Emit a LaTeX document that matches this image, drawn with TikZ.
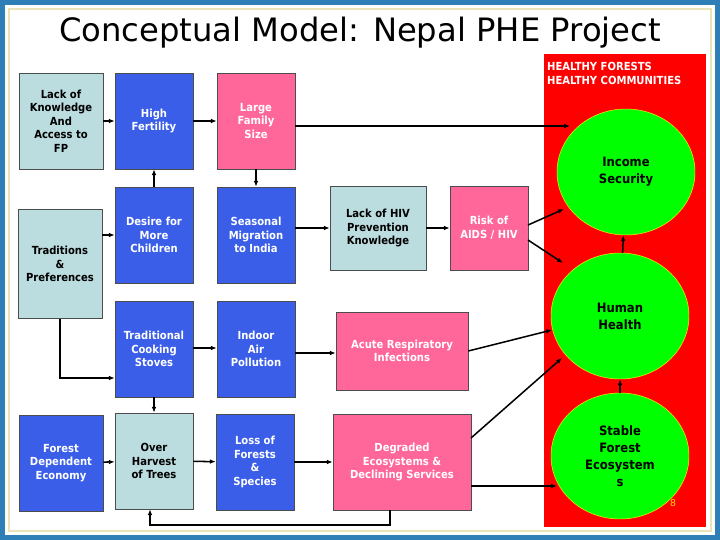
\documentclass[tikz,border=0pt]{standalone}
\usepackage{fontspec}
\setmainfont{DejaVu Sans}
\newfontfamily\cond{DejaVu Sans Condensed}
\usetikzlibrary{arrows.meta,shapes.geometric}
\definecolor{lb}{HTML}{BCDDE0}
\definecolor{bb}{HTML}{3A5EE8}
\definecolor{pk}{HTML}{FF6699}
\definecolor{gr}{HTML}{00FF00}
\definecolor{frame}{HTML}{2E7FB8}
\definecolor{cream}{HTML}{E8E4B8}
\begin{document}
\begin{tikzpicture}[x=0.03cm,y=-0.03cm,
  bx/.style={draw=black!70,line width=0.5pt,align=center,font=\cond\bfseries\fontsize{9.5}{11.5}\selectfont,inner sep=1pt,minimum width=2.34cm,minimum height=2.88cm},
  lbox/.style={bx,fill=lb,text=black},
  bbox/.style={bx,fill=bb,text=white},
  pbox/.style={bx,fill=pk,text=white},
  ell/.style={ellipse,draw=yellow,fill=gr,align=center,font=\cond\bfseries\fontsize{11}{14.5}\selectfont,minimum width=4.14cm,minimum height=3.78cm,inner sep=0},
  ar/.style={-{Latex[length=5pt,width=4pt]},line width=1.3pt}]
\fill[frame] (0,0) rectangle (720,540);
\fill[white] (5,5) rectangle (715,535);
\draw[cream,line width=1.5pt] (9,9) rectangle (711,531);
\node (title) at (360,33) {\fontsize{27.5}{30}\selectfont Conceptual Model: Nepal PHE Project};
\fill[red] (544,54) rectangle (706,527);
\node[anchor=north west,text=white,align=left,font=\cond\bfseries\fontsize{9.5}{12}\selectfont,inner sep=0] (hf) at (547,62) {HEALTHY FORESTS\\HEALTHY COMMUNITIES};
% boxes
\node[lbox,minimum width=2.52cm] (fp) at (61,121) {Lack of\\Knowledge\\And\\Access to\\FP};
\node[bbox] (hfe) at (154,121) {High\\Fertility};
\node[pbox] (lfs) at (256,121) {Large\\Family\\Size};
\node[lbox,minimum width=2.52cm,minimum height=3.27cm] (tr) at (60,264) {Traditions\\\&\\Preferences};
\node[bbox] (des) at (154,235) {Desire for\\More\\Children};
\node[bbox] (sea) at (256,235) {Seasonal\\Migration\\to India};
\node[lbox,minimum width=2.88cm,minimum height=2.52cm] (hiv) at (378,228) {Lack of HIV\\Prevention\\Knowledge};
\node[pbox,minimum height=2.52cm] (risk) at (489,228) {Risk of\\AIDS / HIV};
\node[bbox] (tcs) at (154,349) {Traditional\\Cooking\\Stoves};
\node[bbox] (iap) at (256,349) {Indoor\\Air\\Pollution};
\node[pbox,minimum width=3.96cm,minimum height=2.34cm] (ari) at (402,351) {Acute Respiratory\\Infections};
\node[bbox,minimum width=2.52cm] (fde) at (61,463) {Forest\\Dependent\\Economy};
\node[lbox] (oht) at (154,461) {Over\\Harvest\\of Trees};
\node[bbox] (lof) at (255,462) {Loss of\\Forests\\\&\\Species};
\node[pbox,minimum width=4.14cm] (deg) at (402,462) {Degraded\\Ecosystems \&\\Declining Services};
% ellipses
\node[ell] (inc) at (626,172) {Income\\Security};
\node[ell] (hh) at (620,316) {Human\\Health};
\node[ell] (sfe) at (620,456) {Stable\\Forest\\Ecosystem\\s};
\node[text=yellow!80!orange,font=\fontsize{8}{8}\selectfont] (num) at (673,503) {8};
% arrows
\draw[ar] (fp) -- (hfe);
\draw[ar] (hfe) -- (lfs);
\draw[ar] (lfs.east |- 0,126) -- (570,126);
\draw[ar] (des) -- (hfe);
\draw[ar] (lfs) -- (sea);
\draw[ar] (tr.east |- des) -- (des);
\draw[ar] (tr.south) |- (tcs.west |- 0,378);
\draw[ar] (sea.east |- hiv) -- (hiv);
\draw[ar] (hiv) -- (risk);
\draw[ar] (528,225) -- (564,209);
\draw[ar] (528,240) -- (563,263);
\draw[ar] (tcs.east |- 0,348) -- (iap.west |- 0,348);
\draw[ar] (iap.east |- 0,353) -- (ari.west |- 0,353);
\draw[ar] (ari.east) -- (552,330);
\draw[ar] (tcs) -- (oht);
\draw[ar] (fde) -- (oht);
\draw[ar] (oht) -- (lof);
\draw[ar] (lof) -- (deg);
\draw[ar] (471,438) -- (562,358);
\draw[ar] (deg.east |- 0,486) -- (557,486);
\draw[ar] (390,510) |- (150,525) -- (oht.south -| 150,0);
\draw[ar] (hh) -- (inc);
\draw[ar] (sfe) -- (hh);
\end{tikzpicture}
\end{document}
